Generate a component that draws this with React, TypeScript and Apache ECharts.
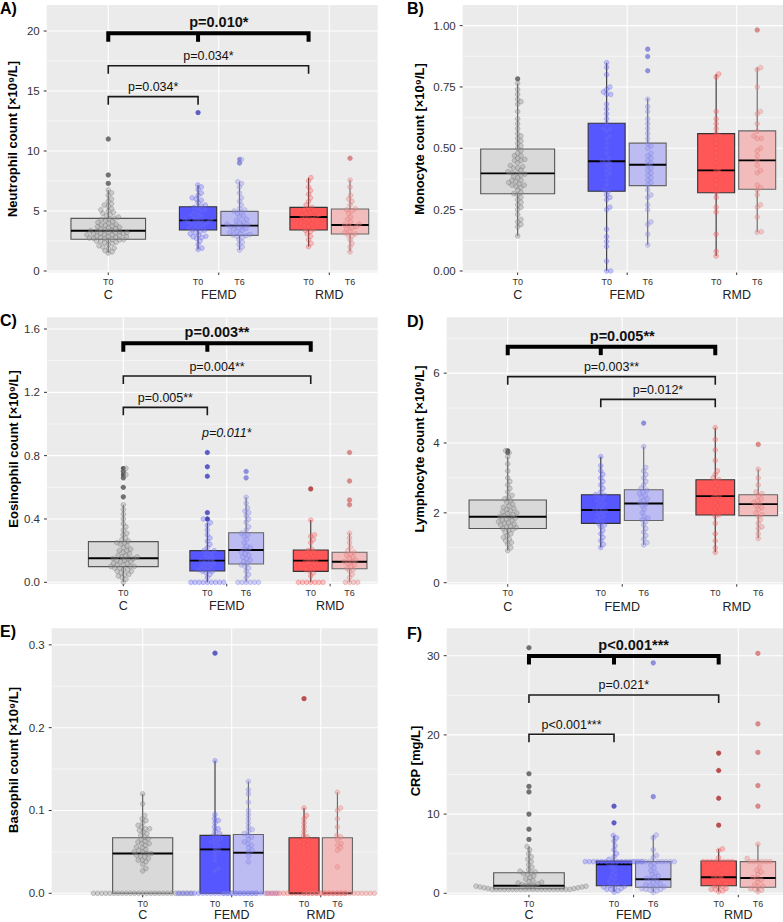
import React, { useEffect, useRef } from "react";
import * as echarts from "echarts";

const FONT = '"Liberation Sans", Arial, Helvetica, sans-serif';

// ---------- categories ----------
const groupNames = ["C", "FEMD", "RMD"];
const boxLabels = ["T0", "T0", "T6", "T0", "T6"];
const boxGroup = [0, 1, 1, 2, 2];
const boxDodge = [0, -1, 1, -1, 1];

// ---------- A) Neutrophil ----------
const neutroTicks = [0, 5, 10, 15, 20];
const neutroMinor = [2.5, 7.5, 12.5, 17.5];
const neutroStats = [
  [1.5, 2.64, 3.36, 4.39, 6.75],
  [1.8, 3.42, 4.22, 5.36, 7.17],
  [1.75, 2.97, 3.78, 4.97, 7.44],
  [2.03, 3.42, 4.5, 5.3, 7.78],
  [1.6, 3.08, 3.83, 5.17, 7.58],
];
const neutroC = [1.5, 1.6, 1.7, 1.85, 1.9, 2.0, 2.1, 2.2, 2.3, 2.35, 2.4, 2.45, 2.5, 2.55, 2.6, 2.62, 2.65, 2.7, 2.72, 2.75, 2.8, 2.82, 2.85, 2.9, 2.92, 2.95, 3.0, 3.02, 3.05, 3.1, 3.12, 3.15, 3.2, 3.22, 3.25, 3.3, 3.33, 3.36, 3.4, 3.45, 3.5, 3.55, 3.6, 3.65, 3.7, 3.75, 3.8, 3.85, 3.9, 4.0, 4.05, 4.1, 4.2, 4.3, 4.35, 4.4, 4.5, 4.6, 4.7, 4.8, 4.9, 5.0, 5.1, 5.2, 5.4, 5.5, 5.6, 5.8, 6.0, 6.3, 6.5, 6.75, 7.3, 8.0, 11.0];
const neutroFT0 = [1.8, 1.9, 2.2, 2.5, 2.7, 2.8, 2.85, 2.9, 3.0, 3.1, 3.2, 3.3, 3.4, 3.45, 3.5, 3.6, 3.7, 3.8, 3.85, 3.9, 4.0, 4.05, 4.1, 4.15, 4.2, 4.25, 4.3, 4.4, 4.5, 4.6, 4.7, 4.8, 4.9, 5.0, 5.1, 5.2, 5.3, 5.4, 5.5, 5.7, 5.9, 6.0, 6.1, 6.3, 6.5, 6.8, 7.0, 7.17, 13.2];
const neutroFT6 = [1.75, 2.0, 2.2, 2.4, 2.6, 2.8, 2.9, 2.95, 3.0, 3.05, 3.1, 3.2, 3.3, 3.4, 3.5, 3.55, 3.6, 3.7, 3.75, 3.8, 3.85, 3.9, 4.0, 4.1, 4.2, 4.3, 4.5, 4.6, 4.8, 4.9, 5.0, 5.1, 5.2, 5.5, 5.8, 6.1, 6.5, 7.0, 7.3, 7.44, 9.0, 9.3];
const neutroRT0 = [2.03, 2.3, 2.6, 2.9, 3.1, 3.3, 3.4, 3.5, 3.7, 3.8, 3.9, 4.0, 4.2, 4.3, 4.4, 4.5, 4.55, 4.6, 4.7, 4.8, 4.9, 5.0, 5.1, 5.2, 5.3, 5.5, 5.8, 6.1, 6.4, 6.7, 7.0, 7.5, 7.78];
const neutroRT6 = [1.6, 2.0, 2.3, 2.6, 2.9, 3.0, 3.1, 3.2, 3.3, 3.5, 3.6, 3.7, 3.8, 3.85, 3.9, 4.1, 4.3, 4.5, 4.8, 5.0, 5.1, 5.2, 5.5, 5.8, 6.0, 6.3, 7.0, 7.58, 9.4];
const neutroBrackets = [
  { from: 0, to: 3, mid: 1, y: 19.81, bold: true, label: "p=0.010*", labelAt: 2 },
  { from: 0, to: 3, y: 17.11, label: "p=0.034*" },
  { from: 0, to: 1, y: 14.53, label: "p=0.034*" },
];

// ---------- B) Monocyte ----------
const monoTicks = [0, 0.25, 0.5, 0.75, 1.0];
const monoMinor = [0.125, 0.375, 0.625, 0.875];
const monoStats = [
  [0.143, 0.315, 0.398, 0.497, 0.765],
  [0.0, 0.325, 0.447, 0.602, 0.849],
  [0.106, 0.348, 0.433, 0.521, 0.704],
  [0.061, 0.319, 0.41, 0.56, 0.803],
  [0.158, 0.333, 0.451, 0.571, 0.829],
];
const monoC = [0.143, 0.18, 0.19, 0.2, 0.21, 0.23, 0.25, 0.26, 0.27, 0.28, 0.29, 0.3, 0.31, 0.315, 0.32, 0.33, 0.34, 0.345, 0.35, 0.35, 0.355, 0.36, 0.365, 0.37, 0.37, 0.38, 0.385, 0.39, 0.395, 0.4, 0.4, 0.405, 0.41, 0.42, 0.42, 0.425, 0.43, 0.44, 0.45, 0.45, 0.455, 0.46, 0.47, 0.47, 0.48, 0.49, 0.5, 0.51, 0.52, 0.53, 0.54, 0.55, 0.56, 0.58, 0.6, 0.62, 0.65, 0.68, 0.69, 0.7, 0.72, 0.74, 0.765, 0.783];
const monoFT0 = [0.0, 0.0, 0.04, 0.1, 0.12, 0.14, 0.17, 0.25, 0.26, 0.29, 0.3, 0.31, 0.325, 0.33, 0.35, 0.37, 0.39, 0.4, 0.41, 0.42, 0.43, 0.44, 0.447, 0.45, 0.46, 0.48, 0.5, 0.52, 0.54, 0.55, 0.57, 0.58, 0.58, 0.6, 0.62, 0.64, 0.66, 0.68, 0.72, 0.72, 0.73, 0.74, 0.75, 0.8, 0.83, 0.849];
const monoFT6 = [0.106, 0.15, 0.19, 0.2, 0.25, 0.27, 0.3, 0.31, 0.33, 0.35, 0.36, 0.37, 0.38, 0.39, 0.4, 0.41, 0.42, 0.43, 0.44, 0.45, 0.46, 0.47, 0.48, 0.5, 0.51, 0.52, 0.54, 0.56, 0.58, 0.6, 0.62, 0.65, 0.67, 0.7, 0.816, 0.874, 0.904];
const monoRT0 = [0.061, 0.08, 0.15, 0.24, 0.26, 0.3, 0.32, 0.33, 0.35, 0.37, 0.39, 0.4, 0.41, 0.42, 0.44, 0.46, 0.48, 0.5, 0.52, 0.54, 0.55, 0.56, 0.58, 0.6, 0.62, 0.65, 0.79, 0.803];
const monoRT6 = [0.158, 0.16, 0.22, 0.26, 0.27, 0.31, 0.33, 0.34, 0.35, 0.4, 0.41, 0.43, 0.45, 0.47, 0.49, 0.5, 0.54, 0.54, 0.55, 0.57, 0.6, 0.64, 0.65, 0.75, 0.82, 0.829, 0.982];

// ---------- C) Eosinophil ----------
const eosTicks = [0, 0.4, 0.8, 1.2, 1.6];
const eosMinor = [0.2, 0.6, 1.0, 1.4];
const eosStats = [
  [0.0, 0.099, 0.152, 0.257, 0.49],
  [0.0, 0.071, 0.137, 0.2, 0.377],
  [0.0, 0.116, 0.204, 0.313, 0.537],
  [0.0, 0.069, 0.137, 0.204, 0.393],
  [0.0, 0.086, 0.13, 0.19, 0.31],
];
const eosC = [0, 0.02, 0.03, 0.04, 0.05, 0.05, 0.06, 0.07, 0.07, 0.08, 0.08, 0.09, 0.09, 0.1, 0.1, 0.1, 0.11, 0.11, 0.12, 0.12, 0.13, 0.13, 0.14, 0.14, 0.15, 0.15, 0.15, 0.16, 0.16, 0.17, 0.17, 0.18, 0.19, 0.2, 0.2, 0.21, 0.22, 0.23, 0.24, 0.25, 0.25, 0.26, 0.27, 0.28, 0.3, 0.31, 0.33, 0.35, 0.37, 0.4, 0.43, 0.46, 0.49, 0.54, 0.6, 0.66, 0.68, 0.7, 0.72];
const eosFT0 = [0, 0, 0, 0, 0, 0, 0, 0, 0, 0.03, 0.05, 0.06, 0.07, 0.07, 0.08, 0.08, 0.09, 0.1, 0.1, 0.11, 0.12, 0.12, 0.13, 0.14, 0.14, 0.15, 0.16, 0.17, 0.18, 0.19, 0.2, 0.2, 0.22, 0.24, 0.26, 0.28, 0.3, 0.33, 0.36, 0.377, 0.4, 0.4, 0.44, 0.67, 0.73, 0.82];
const eosFT6 = [0, 0, 0, 0, 0, 0, 0.03, 0.05, 0.07, 0.09, 0.1, 0.11, 0.12, 0.13, 0.14, 0.15, 0.16, 0.17, 0.18, 0.19, 0.2, 0.21, 0.22, 0.23, 0.25, 0.27, 0.29, 0.3, 0.31, 0.33, 0.35, 0.38, 0.4, 0.42, 0.44, 0.45, 0.47, 0.5, 0.537, 0.66, 0.7];
const eosRT0 = [0, 0, 0, 0, 0, 0, 0, 0.04, 0.06, 0.07, 0.08, 0.1, 0.11, 0.12, 0.13, 0.14, 0.14, 0.15, 0.16, 0.17, 0.18, 0.19, 0.2, 0.21, 0.25, 0.27, 0.29, 0.3, 0.393, 0.59];
const eosRT6 = [0, 0, 0, 0, 0.03, 0.05, 0.07, 0.08, 0.09, 0.1, 0.11, 0.12, 0.13, 0.13, 0.14, 0.15, 0.16, 0.17, 0.18, 0.19, 0.2, 0.22, 0.25, 0.28, 0.31, 0.49, 0.52, 0.64, 0.82];
const eosBrackets = [
  { from: 0, to: 3, mid: 1, y: 1.51, bold: true, label: "p=0.003**" },
  { from: 0, to: 3, y: 1.303, label: "p=0.004**" },
  { from: 0, to: 1, y: 1.105, label: "p=0.005**" },
];
const eosNotes = [{ at: 2, y: 0.945, label: "p=0.011*" }];

// ---------- D) Lymphocyte ----------
const lymphTicks = [0, 2, 4, 6];
const lymphMinor = [1, 3, 5, 7];
const lymphStats = [
  [0.92, 1.55, 1.89, 2.37, 3.61],
  [1.01, 1.7, 2.08, 2.52, 3.61],
  [1.08, 1.78, 2.27, 2.66, 3.9],
  [0.87, 1.94, 2.48, 2.95, 4.44],
  [1.27, 1.92, 2.25, 2.52, 3.25],
];
const lymphC = [0.92, 1.0, 1.1, 1.15, 1.2, 1.25, 1.3, 1.35, 1.4, 1.45, 1.5, 1.52, 1.55, 1.58, 1.6, 1.62, 1.65, 1.68, 1.7, 1.72, 1.75, 1.78, 1.8, 1.82, 1.85, 1.88, 1.9, 1.92, 1.95, 1.98, 2.0, 2.03, 2.06, 2.1, 2.13, 2.16, 2.2, 2.25, 2.3, 2.35, 2.4, 2.45, 2.5, 2.6, 2.7, 2.8, 2.9, 3.0, 3.2, 3.4, 3.61, 3.72, 3.78];
const lymphFT0 = [1.01, 1.1, 1.2, 1.3, 1.4, 1.5, 1.6, 1.65, 1.7, 1.75, 1.8, 1.85, 1.9, 1.95, 2.0, 2.05, 2.08, 2.1, 2.15, 2.2, 2.25, 2.3, 2.35, 2.4, 2.45, 2.5, 2.52, 2.6, 2.7, 2.8, 2.9, 3.0, 3.1, 3.2, 3.35, 3.61];
const lymphFT6 = [1.08, 1.15, 1.25, 1.35, 1.45, 1.55, 1.65, 1.75, 1.8, 1.85, 1.9, 2.0, 2.1, 2.2, 2.25, 2.3, 2.35, 2.4, 2.45, 2.5, 2.55, 2.6, 2.65, 2.7, 2.8, 2.9, 3.0, 3.1, 3.2, 3.3, 3.9, 4.57];
const lymphRT0 = [0.87, 1.0, 1.2, 1.4, 1.7, 1.9, 1.95, 2.0, 2.1, 2.2, 2.3, 2.4, 2.45, 2.5, 2.55, 2.6, 2.7, 2.8, 2.9, 2.95, 3.0, 3.1, 3.2, 3.5, 3.8, 4.1, 4.44];
const lymphRT6 = [1.27, 1.4, 1.55, 1.6, 1.7, 1.8, 1.9, 1.95, 2.0, 2.1, 2.15, 2.2, 2.25, 2.3, 2.35, 2.4, 2.5, 2.55, 2.6, 2.8, 3.0, 3.25, 3.96];
const lymphBrackets = [
  { from: 0, to: 3, mid: 1, y: 6.76, bold: true, label: "p=0.005**", labelAt: 2 },
  { from: 0, to: 3, y: 5.9, label: "p=0.003**" },
  { from: 1, to: 3, y: 5.25, label: "p=0.012*" },
];

// ---------- E) Basophil ----------
const basoTicks = [0, 0.1, 0.2, 0.3];
const basoMinor = [0.05, 0.15, 0.25];
const basoStats = [
  [0.0, 0.0, 0.048, 0.067, 0.12],
  [0.0, 0.0, 0.053, 0.07, 0.16],
  [0.0, 0.0, 0.049, 0.071, 0.135],
  [0.0, 0.0, 0.0, 0.067, 0.103],
  [0.0, 0.0, 0.0, 0.067, 0.122],
];
const basoC = [0, 0, 0, 0, 0, 0, 0, 0, 0, 0, 0, 0, 0, 0, 0, 0, 0, 0, 0, 0, 0, 0, 0, 0, 0, 0.027, 0.03, 0.035, 0.038, 0.04, 0.04, 0.042, 0.044, 0.045, 0.046, 0.048, 0.048, 0.05, 0.05, 0.052, 0.053, 0.055, 0.056, 0.058, 0.06, 0.06, 0.062, 0.063, 0.065, 0.066, 0.068, 0.07, 0.072, 0.074, 0.076, 0.078, 0.078, 0.08, 0.082, 0.085, 0.088, 0.09, 0.094, 0.108, 0.12];
const basoFT0 = [0, 0, 0, 0, 0, 0, 0, 0, 0, 0, 0, 0, 0, 0, 0, 0, 0, 0, 0, 0, 0.027, 0.03, 0.04, 0.045, 0.05, 0.052, 0.055, 0.058, 0.06, 0.062, 0.063, 0.065, 0.066, 0.068, 0.07, 0.072, 0.075, 0.078, 0.08, 0.085, 0.088, 0.09, 0.095, 0.16, 0.29];
const basoFT6 = [0, 0, 0, 0, 0, 0, 0, 0, 0, 0, 0, 0, 0, 0, 0.038, 0.045, 0.05, 0.052, 0.055, 0.058, 0.06, 0.062, 0.065, 0.068, 0.07, 0.072, 0.075, 0.077, 0.08, 0.085, 0.09, 0.095, 0.1, 0.11, 0.12, 0.125, 0.135];
const basoRT0 = [0, 0, 0, 0, 0, 0, 0, 0, 0, 0, 0, 0, 0, 0, 0, 0, 0, 0, 0, 0, 0.032, 0.035, 0.05, 0.055, 0.058, 0.06, 0.062, 0.065, 0.068, 0.07, 0.075, 0.08, 0.085, 0.09, 0.094, 0.103, 0.235];
const basoRT6 = [0, 0, 0, 0, 0, 0, 0, 0, 0, 0, 0, 0, 0, 0, 0, 0, 0, 0, 0.032, 0.052, 0.055, 0.058, 0.06, 0.065, 0.068, 0.07, 0.08, 0.09, 0.1, 0.103, 0.122];

// ---------- F) CRP ----------
const crpTicks = [0, 10, 20, 30];
const crpMinor = [5, 15, 25];
const crpStats = [
  [0.5, 0.58, 0.96, 2.6, 5.9],
  [0.15, 0.96, 3.66, 4.08, 7.3],
  [0.1, 0.76, 1.77, 4.0, 7.36],
  [0.2, 0.96, 2.02, 4.08, 5.6],
  [0.2, 0.76, 1.93, 4.0, 6.19],
];
const crpC = [0.5, 0.5, 0.5, 0.5, 0.5, 0.5, 0.5, 0.5, 0.5, 0.5, 0.5, 0.5, 0.5, 0.5, 0.5, 0.5, 0.5, 0.5, 0.5, 0.5, 0.6, 0.6, 0.7, 0.7, 0.8, 0.8, 0.9, 0.9, 1.0, 1.0, 1.0, 1.1, 1.2, 1.3, 1.4, 1.5, 1.6, 1.8, 2.0, 2.2, 2.4, 2.5, 2.6, 2.7, 2.8, 3.0, 3.3, 3.6, 4.0, 4.3, 4.6, 5.0, 5.5, 5.9, 6.8, 8.1, 10.0, 12.8, 13.5, 15.1, 31.0];
const crpFT0 = [0.15, 0.3, 0.5, 0.5, 0.6, 0.7, 0.8, 0.9, 1.0, 1.1, 1.3, 1.5, 1.8, 2.0, 2.3, 2.6, 3.0, 3.3, 3.6, 3.7, 4.0, 4.0, 4.0, 4.0, 4.0, 4.0, 4.0, 4.0, 4.0, 4.0, 4.0, 4.0, 4.0, 4.0, 4.3, 4.6, 5.0, 5.5, 6.0, 6.6, 7.0, 7.3, 8.9, 11.0];
const crpFT6 = [0.1, 0.3, 0.4, 0.5, 0.5, 0.6, 0.7, 0.8, 0.9, 1.0, 1.1, 1.2, 1.4, 1.6, 1.8, 1.9, 2.0, 2.2, 2.4, 2.6, 2.9, 3.2, 3.5, 3.8, 4.0, 4.0, 4.0, 4.0, 4.0, 4.0, 4.0, 4.0, 4.0, 4.0, 4.5, 4.8, 5.5, 7.0, 7.36, 12.2, 29.1];
const crpRT0 = [0.2, 0.3, 0.5, 0.5, 0.6, 0.8, 0.9, 1.0, 1.2, 1.5, 1.8, 2.0, 2.1, 2.3, 2.6, 3.0, 3.5, 4.0, 4.0, 4.0, 4.0, 4.0, 4.0, 4.0, 4.0, 4.5, 5.4, 5.6, 8.6, 12.0, 15.5, 17.7];
const crpRT6 = [0.2, 0.4, 0.5, 0.6, 0.8, 0.9, 1.1, 1.4, 1.7, 1.9, 2.0, 2.4, 2.7, 2.9, 3.3, 4.0, 4.0, 4.0, 4.0, 4.0, 4.0, 4.4, 6.19, 11.0, 13.6, 17.8, 21.4, 30.3];
const crpBrackets = [
  { from: 0, to: 3, mid: 1, y: 29.96, bold: true, label: "p<0.001***", labelAt: 2 },
  { from: 0, to: 3, y: 25.04, label: "p=0.021*" },
  { from: 0, to: 1, y: 20.08, label: "p<0.001***" },
];

// ---------- styling ----------
const DODGE = 0.1875;
const HALF_FULL = 0.3375;
const HALF_DODGED = 0.16875;
const boxFill = ["#D9D9D9", "#5757FF", "#BCBCF2", "#FF5757", "#F2BCBC"];
const boxStroke = ["#555555", "#333333", "#666666", "#333333", "#666666"];
const ptFill = ["rgba(150,150,150,0.5)", "rgba(110,110,255,0.45)", "rgba(140,140,235,0.45)", "rgba(255,100,100,0.45)", "rgba(238,140,140,0.5)"];
const ptStroke = ["rgba(105,105,105,0.6)", "rgba(90,90,230,0.55)", "rgba(110,110,220,0.5)", "rgba(230,70,70,0.55)", "rgba(220,110,110,0.55)"];
const outColor = ["#333333", "#30308A", "#7A7ACC", "#6E1E1E", "#C07070"];

type Bracket = { from: number; to: number; mid?: number; y: number; bold?: boolean; label: string; labelAt?: number };
type Note = { at: number; y: number; label: string };
type Panel = {
  left: number; top: number; width: number; height: number;
  xMin: number; xMax: number; yMax: number; interval: number; decimals: number;
  ticks: number[]; minor: number[]; stats: number[][]; values: number[][];
  brackets: Bracket[]; notes: Note[]; groupGap: number;
  title: string; titleX: number; titleY: number; letter: string; letterX: number; letterY: number;
};

const panels: Panel[] = [
  { left: 46.7, top: 5, width: 331, height: 266, xMin: 0.443, xMax: 3.438, yMax: 22.17, interval: 5, decimals: 0,
    ticks: neutroTicks, minor: neutroMinor, stats: neutroStats, values: [neutroC, neutroFT0, neutroFT6, neutroRT0, neutroRT6],
    brackets: neutroBrackets, notes: [], groupGap: 24, title: "Neutrophil count [×10⁹/L]", titleX: 12.5, titleY: 139, letter: "A)", letterX: 0, letterY: 8 },
  { left: 462.7, top: 5, width: 320.3, height: 266, xMin: 0.498, xMax: 3.423, yMax: 1.084, interval: 0.25, decimals: 2,
    ticks: monoTicks, minor: monoMinor, stats: monoStats, values: [monoC, monoFT0, monoFT6, monoRT0, monoRT6],
    brackets: [], notes: [], groupGap: 24, title: "Monocyte count [×10⁹/L]", titleX: 419, titleY: 139, letter: "B)", letterX: 407, letterY: 8.5 },
  { left: 47, top: 317.3, width: 330.7, height: 265, xMin: 0.262, xMax: 3.46, yMax: 1.674, interval: 0.4, decimals: 1,
    ticks: eosTicks, minor: eosMinor, stats: eosStats, values: [eosC, eosFT0, eosFT6, eosRT0, eosRT6],
    brackets: eosBrackets, notes: eosNotes, groupGap: 24, title: "Eosinophil count [×10⁹/L]", titleX: 13, titleY: 449, letter: "C)", letterX: 0, letterY: 320 },
  { left: 446.7, top: 317.3, width: 336.3, height: 265.4, xMin: 0.467, xMax: 3.404, yMax: 7.6, interval: 2, decimals: 0,
    ticks: lymphTicks, minor: lymphMinor, stats: lymphStats, values: [lymphC, lymphFT0, lymphFT6, lymphRT0, lymphRT6],
    brackets: lymphBrackets, notes: [], groupGap: 24, title: "Lymphocyte count [×10⁹/L]", titleX: 419, titleY: 449, letter: "D)", letterX: 407, letterY: 321.5 },
  { left: 51.7, top: 628.3, width: 326, height: 265, xMin: -0.022, xMax: 3.64, yMax: 0.32, interval: 0.1, decimals: 1,
    ticks: basoTicks, minor: basoMinor, stats: basoStats, values: [basoC, basoFT0, basoFT6, basoRT0, basoRT6],
    brackets: [], notes: [], groupGap: 21.5, title: "Basophil count [×10⁹/L]", titleX: 13.3, titleY: 760, letter: "E)", letterX: 0, letterY: 631.5 },
  { left: 446.7, top: 628.3, width: 336.3, height: 265, xMin: 0.214, xMax: 3.427, yMax: 33.46, interval: 10, decimals: 0,
    ticks: crpTicks, minor: crpMinor, stats: crpStats, values: [crpC, crpFT0, crpFT6, crpRT0, crpRT6],
    brackets: crpBrackets, notes: [], groupGap: 21.5, title: "CRP [mg/L]", titleX: 415, titleY: 761, letter: "F)", letterX: 407, letterY: 633 },
];

const boxX = (k: number) => boxGroup[k] + 1 + boxDodge[k] * DODGE;

// beeswarm layout (compact swarm), returns pixel offsets
function swarm(values: number[], pxPerY: number, d: number): number[] {
  const order = values.map((_, i) => i).sort((a, b) => values[a] - values[b]);
  const placed: { x: number; y: number }[] = [];
  const out = new Array(values.length).fill(0);
  for (const i of order) {
    const y = values[i] * pxPerY;
    const near = placed.filter((p) => Math.abs(p.y - y) < d);
    const cands = [0];
    for (const p of near) {
      const dx = Math.sqrt(Math.max(0, d * d - (p.y - y) * (p.y - y)));
      cands.push(p.x + dx, p.x - dx);
    }
    cands.sort((a, b) => Math.abs(a) - Math.abs(b) || b - a);
    let chosen = 0;
    for (const c of cands) {
      if (near.every((p) => (p.x - c) * (p.x - c) + (p.y - y) * (p.y - y) >= d * d - 1e-6)) {
        chosen = c;
        break;
      }
    }
    placed.push({ x: chosen, y });
    out[i] = chosen;
  }
  return out;
}

function hline(x1: number, x2: number, y: number, w: number, c = "#FFFFFF") {
  return { type: "line", shape: { x1, y1: y, x2, y2: y }, style: { stroke: c, lineWidth: w } };
}
function vline(x: number, y1: number, y2: number, w: number, c = "#FFFFFF") {
  return { type: "line", shape: { x1: x, y1, x2: x, y2 }, style: { stroke: c, lineWidth: w } };
}

function buildSeries(p: Panel, i: number) {
  const out: any[] = [];
  const pxX = p.width / (p.xMax - p.xMin);
  const pxY = p.height / p.yMax;

  out.push({
    type: "custom", xAxisIndex: i, yAxisIndex: i, silent: true, z: 1, data: [[p.xMin, 0]],
    renderItem: (params: any, api: any) => {
      const cs = params.coordSys;
      const L = cs.x, T = cs.y, W = cs.width, H = cs.height, B = T + H;
      const ch: any[] = [{ type: "rect", shape: { x: L, y: T, width: W, height: H + 1.5 }, style: { fill: "#EBEBEB" } }];
      for (const v of p.minor) ch.push(hline(L, L + W, api.coord([p.xMin, v])[1], 0.55));
      for (const v of p.ticks) {
        const y = api.coord([p.xMin, v])[1];
        ch.push(hline(L, L + W, y, 1.1));
        ch.push(hline(L - 3, L, y, 1, "#333333"));
      }
      for (let g = 0; g < groupNames.length; g++) {
        const x = api.coord([g + 1, 0])[0];
        ch.push(vline(x, T, B + 1.5, 1.1));
        ch.push(vline(x, B + 1.5, B + 4, 1, "#333333"));
        ch.push({ type: "text", x, y: B + p.groupGap, style: { text: groupNames[g], fill: "#222222", fontSize: 12.5, fontFamily: FONT, align: "center", verticalAlign: "middle" } });
      }
      for (let k = 0; k < boxLabels.length; k++) {
        const x = api.coord([boxX(k), 0])[0];
        ch.push({ type: "text", x, y: B + 10.5, style: { text: boxLabels[k], fill: "#333333", fontSize: 9, fontFamily: FONT, align: "center", verticalAlign: "middle" } });
      }
      return { type: "group", children: ch };
    },
  });

  out.push({
    type: "custom", xAxisIndex: i, yAxisIndex: i, silent: true, z: 2,
    data: p.stats.map((s, k) => [boxX(k), ...s]),
    renderItem: (params: any, api: any) => {
      const k = params.dataIndex;
      const x = api.value(0);
      const hw = k === 0 ? HALF_FULL : HALF_DODGED;
      const [cx, yLo] = api.coord([x, api.value(1)]);
      const yQ1 = api.coord([x, api.value(2)])[1];
      const yMed = api.coord([x, api.value(3)])[1];
      const yQ3 = api.coord([x, api.value(4)])[1];
      const yHi = api.coord([x, api.value(5)])[1];
      const xl = api.coord([x - hw, 0])[0];
      const xr = api.coord([x + hw, 0])[0];
      const st = boxStroke[k];
      return {
        type: "group",
        children: [
          vline(cx, yHi, yQ3, 1.1, st),
          vline(cx, yQ1, yLo, 1.1, st),
          { type: "rect", shape: { x: xl, y: yQ3, width: xr - xl, height: Math.max(0.5, yQ1 - yQ3) }, style: { fill: boxFill[k], stroke: st, lineWidth: 1.1 } },
          hline(xl, xr, yMed, 1.9, "#000000"),
        ],
      };
    },
  });

  const outliers: number[][][] = [[], [], [], [], []];
  p.values.forEach((vals, k) => {
    const s = p.stats[k];
    vals.forEach((v) => {
      if (v > s[4] + 1e-9 || v < s[0] - 1e-9) outliers[k].push([boxX(k), v]);
    });
  });
  outliers.forEach((d, k) => {
    out.push({ type: "scatter", xAxisIndex: i, yAxisIndex: i, silent: true, z: 3, clip: false, symbol: "circle", symbolSize: 4.8,
      itemStyle: { color: outColor[k], borderWidth: 0 }, data: d });
  });

  p.values.forEach((vals, k) => {
    const offs = swarm(vals, pxY, 4.1);
    out.push({ type: "scatter", xAxisIndex: i, yAxisIndex: i, silent: true, z: 4, clip: false, symbol: "circle", symbolSize: 4.8,
      itemStyle: { color: ptFill[k], borderColor: ptStroke[k], borderWidth: 0.6 },
      data: vals.map((v, j) => [boxX(k) + offs[j] / pxX, v]) });
  });

  if (p.brackets.length || p.notes.length) {
    out.push({
      type: "custom", xAxisIndex: i, yAxisIndex: i, silent: true, z: 5, data: [[p.xMin, 0]],
      renderItem: (params: any, api: any) => {
        const ch: any[] = [];
        for (const b of p.brackets) {
          const x1 = api.coord([boxX(b.from), b.y])[0];
          const x2 = api.coord([boxX(b.to), b.y])[0];
          const y = api.coord([0, b.y])[1];
          const drop = b.bold ? 8.5 : 8;
          const w = b.bold ? 4 : 1.6;
          const c = b.bold ? "#000000" : "#1A1A1A";
          ch.push({ type: "polyline", shape: { points: [[x1, y + drop], [x1, y], [x2, y], [x2, y + drop]] }, style: { stroke: c, lineWidth: w, fill: null, lineJoin: "miter", lineCap: "butt" } });
          if (b.mid !== undefined) {
            const xm = api.coord([boxX(b.mid), b.y])[0];
            ch.push(vline(xm, y, y + drop, w, c));
          }
          const lx = b.labelAt !== undefined ? api.coord([b.labelAt, 0])[0] : (x1 + x2) / 2;
          ch.push({ type: "text", x: lx, y: y - (b.bold ? 11 : 9.5), style: { text: b.label, fill: "#111111", fontSize: b.bold ? 14.5 : 12.5, fontWeight: b.bold ? "bold" : "normal", fontFamily: FONT, align: "center", verticalAlign: "middle" } });
        }
        for (const n of p.notes) {
          const pt = api.coord([n.at, n.y]);
          ch.push({ type: "text", x: pt[0], y: pt[1], style: { text: n.label, fill: "#111111", fontSize: 12.5, fontStyle: "italic", fontFamily: FONT, align: "center", verticalAlign: "middle" } });
        }
        return { type: "group", children: ch };
      },
    });
  }
  return out;
}

export default function App() {
  const ref = useRef<HTMLDivElement>(null);
  useEffect(() => {
    if (!ref.current) return;
    const chart = echarts.init(ref.current, undefined, { renderer: "svg" });
    const series: any[] = [];
    panels.forEach((p, i) => series.push(...buildSeries(p, i)));
    const graphic: any[] = [];
    panels.forEach((p) => {
      graphic.push({ type: "text", x: p.letterX, y: p.letterY, silent: true,
        style: { text: p.letter, fill: "#000000", fontSize: 16, fontWeight: "bold", fontFamily: FONT, align: "left", verticalAlign: "middle" } });
      graphic.push({ type: "text", x: p.titleX, y: p.titleY, rotation: Math.PI / 2, silent: true,
        style: { text: p.title, fill: "#000000", fontSize: 13, fontWeight: "bold", fontFamily: FONT, align: "center", verticalAlign: "middle" } });
    });
    chart.setOption({
      animation: false,
      grid: panels.map((p) => ({ left: p.left, top: p.top, width: p.width, height: p.height, show: false })),
      xAxis: panels.map((p, i) => ({ type: "value", gridIndex: i, min: p.xMin, max: p.xMax, show: false })),
      yAxis: panels.map((p, i) => ({
        type: "value", gridIndex: i, min: 0, max: p.yMax, interval: p.interval,
        axisLine: { show: false }, axisTick: { show: false }, splitLine: { show: false },
        axisLabel: {
          margin: 7, color: "#333333", fontSize: 11.5, fontFamily: FONT,
          formatter: (v: number) => (p.ticks.some((t) => Math.abs(t - v) < 1e-6) ? v.toFixed(p.decimals) : ""),
        },
      })),
      series,
      graphic,
    });
    return () => chart.dispose();
  }, []);
  return <div ref={ref} style={{ position: "absolute", left: 0, top: 0, width: 783, height: 922 }} />;
}
